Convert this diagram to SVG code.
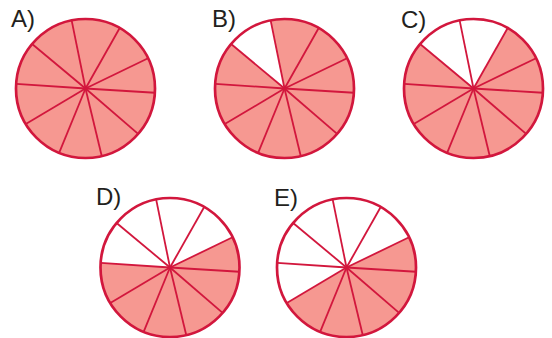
<svg xmlns="http://www.w3.org/2000/svg" xmlns:xlink="http://www.w3.org/1999/xlink" width="552" height="338" viewBox="0 0 552 338">
<style>
.lbl{font-family:"Liberation Sans",Arial,sans-serif;font-size:24px;fill:#231f20}
.bg{fill:#ffffff;stroke:none}
.fill{fill:#f69891;stroke:none}
.spk{stroke:#d2173d;stroke-width:1.8;fill:none}
.rim{fill:none;stroke:#d2173d;stroke-width:2.7}
</style>
<defs>
<g id="spokes" class="spk">
<line x1="0" y1="0" x2="-13.86" y2="-68.10"/>
<line x1="0" y1="0" x2="34.22" y2="-60.49"/>
<line x1="0" y1="0" x2="62.57" y2="-30.25"/>
<line x1="0" y1="0" x2="69.37" y2="4.24"/>
<line x1="0" y1="0" x2="52.61" y2="45.41"/>
<line x1="0" y1="0" x2="16.22" y2="67.58"/>
<line x1="0" y1="0" x2="-26.37" y2="64.30"/>
<line x1="0" y1="0" x2="-59.70" y2="35.59"/>
<line x1="0" y1="0" x2="-69.35" y2="-4.61"/>
<line x1="0" y1="0" x2="-53.40" y2="-44.49"/>
</g>
</defs>
<g id="A" transform="translate(85.5,88.5)">
<circle class="fill" r="69.5"/>
<use xlink:href="#spokes" href="#spokes"/>
<circle class="rim" r="69.5"/>
</g>
<g id="B" transform="translate(284.5,88.5)">
<circle class="bg" r="69.5"/>
<path class="fill" d="M0,0 L-13.86,-68.10 A69.5,69.5 0 1 1 -53.40,-44.49 Z"/>
<use xlink:href="#spokes" href="#spokes"/>
<circle class="rim" r="69.5"/>
</g>
<g id="C" transform="translate(473.5,88.5)">
<circle class="bg" r="69.5"/>
<path class="fill" d="M0,0 L34.22,-60.49 A69.5,69.5 0 1 1 -53.40,-44.49 Z"/>
<use xlink:href="#spokes" href="#spokes"/>
<circle class="rim" r="69.5"/>
</g>
<g id="D" transform="translate(170,267.5)">
<circle class="bg" r="69.5"/>
<path class="fill" d="M0,0 L62.57,-30.25 A69.5,69.5 0 1 1 -69.35,-4.61 Z"/>
<use xlink:href="#spokes" href="#spokes"/>
<circle class="rim" r="69.5"/>
</g>
<g id="E" transform="translate(346.5,267.5)">
<circle class="bg" r="69.5"/>
<path class="fill" d="M0,0 L62.57,-30.25 A69.5,69.5 0 0 1 -59.70,35.59 Z"/>
<use xlink:href="#spokes" href="#spokes"/>
<circle class="rim" r="69.5"/>
</g>
<g id="labels">
<text class="lbl" x="11" y="26.5">A)</text>
<text class="lbl" x="212" y="26.5">B)</text>
<text class="lbl" x="401" y="28">C)</text>
<text class="lbl" x="96" y="204.5">D)</text>
<text class="lbl" x="274" y="206">E)</text>
</g>
</svg>
